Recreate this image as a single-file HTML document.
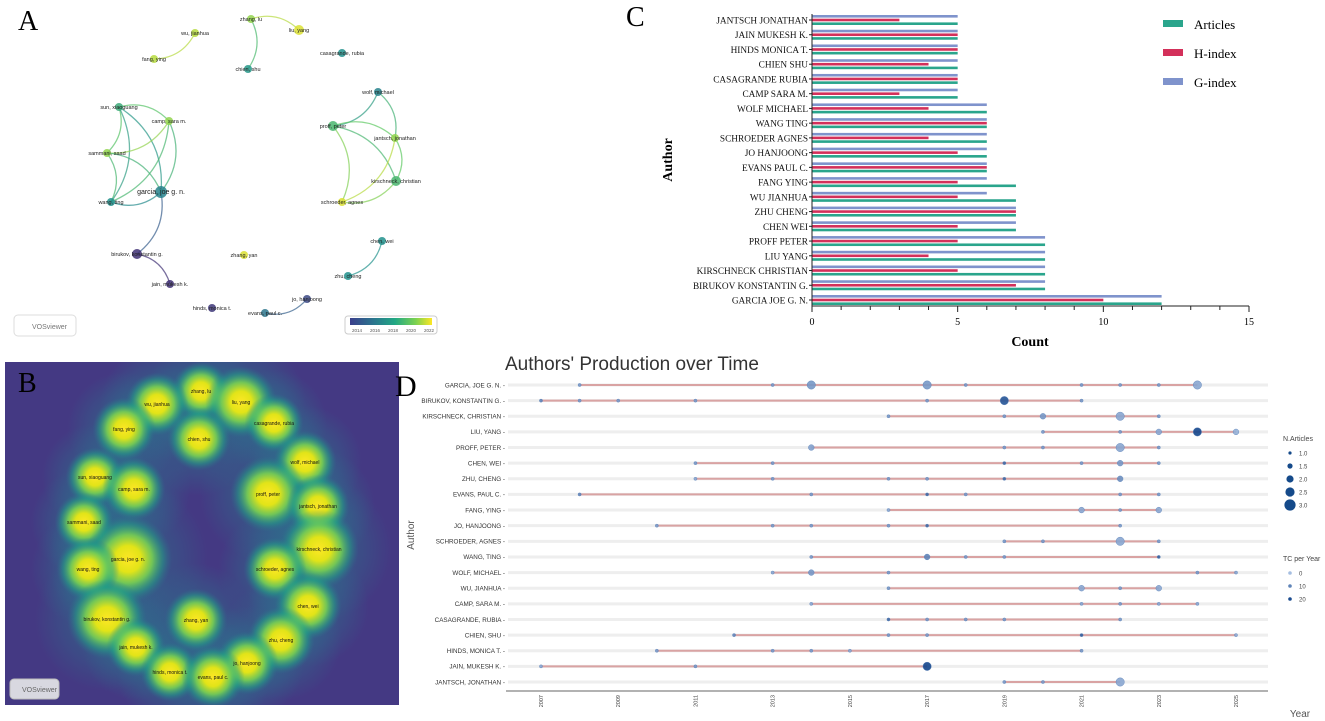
<!DOCTYPE html>
<html><head><meta charset="utf-8"><style>
body{margin:0;background:#fff;width:1325px;height:721px;overflow:hidden;font-family:"Liberation Sans",sans-serif}
svg{position:absolute;left:0;top:0}
</style></head><body>
<svg id="s" width="1325" height="721" viewBox="0 0 1325 721">
<defs>
<radialGradient id="blob">
<stop offset="0" stop-color="#fde725"/>
<stop offset="0.3" stop-color="#e2e418"/>
<stop offset="0.55" stop-color="#7ad151" stop-opacity="0.9"/>
<stop offset="0.8" stop-color="#22a884" stop-opacity="0.45"/>
<stop offset="1" stop-color="#2a788e" stop-opacity="0"/>
</radialGradient>
<radialGradient id="halo">
<stop offset="0" stop-color="#21918c" stop-opacity="0.5"/>
<stop offset="0.6" stop-color="#2a788e" stop-opacity="0.3"/>
<stop offset="1" stop-color="#2a788e" stop-opacity="0"/>
</radialGradient>
<linearGradient id="viridis" x1="0" x2="1">
<stop offset="0" stop-color="#3b3f8c"/><stop offset="0.3" stop-color="#2a788e"/><stop offset="0.55" stop-color="#22a884"/><stop offset="0.8" stop-color="#7ad151"/><stop offset="1" stop-color="#fde725"/>
</linearGradient>
</defs>
<g id="pa"></g>
<g id="pb"></g>
<g id="pc"></g>
<g id="pd"></g>
</svg>
<script>
// ---------- Panel C data ----------
const cAuthors=["JANTSCH JONATHAN","JAIN MUKESH K.","HINDS MONICA T.","CHIEN SHU","CASAGRANDE RUBIA","CAMP SARA M.","WOLF MICHAEL","WANG TING","SCHROEDER AGNES","JO HANJOONG","EVANS PAUL C.","FANG YING","WU JIANHUA","ZHU CHENG","CHEN WEI","PROFF PETER","LIU YANG","KIRSCHNECK CHRISTIAN","BIRUKOV KONSTANTIN G.","GARCIA JOE G. N."];
const cArticles=[5,5,5,5,5,5,6,6,6,6,6,7,7,7,7,8,8,8,8,12];
const cHindex=[3,5,5,4,5,3,4,6,4,5,6,5,5,7,5,5,4,5,7,10];
const cGindex=[5,5,5,5,5,5,6,6,6,6,6,6,6,7,7,8,8,8,8,12];
const cTicks=[0,5,10,15];
// ---------- Panel D data ----------
const dAuthors=["GARCIA, JOE G. N.","BIRUKOV, KONSTANTIN G.","KIRSCHNECK, CHRISTIAN","LIU, YANG","PROFF, PETER","CHEN, WEI","ZHU, CHENG","EVANS, PAUL C.","FANG, YING","JO, HANJOONG","SCHROEDER, AGNES","WANG, TING","WOLF, MICHAEL","WU, JIANHUA","CAMP, SARA M.","CASAGRANDE, RUBIA","CHIEN, SHU","HINDS, MONICA T.","JAIN, MUKESH K.","JANTSCH, JONATHAN"];
const dYears=[[2008,2013,2014,2017,2018,2021,2022,2023,2024],[2007,2008,2009,2011,2017,2019,2021],[2016,2019,2020,2022,2023],[2020,2022,2023,2024,2025],[2014,2019,2020,2022,2023],[2011,2013,2019,2021,2022,2023],[2011,2013,2016,2017,2019,2022],[2008,2014,2017,2018,2022,2023],[2016,2021,2022,2023],[2010,2013,2014,2016,2017,2022],[2019,2020,2022,2023],[2014,2017,2018,2019,2023],[2013,2014,2016,2024,2025],[2016,2021,2022,2023],[2014,2021,2022,2023,2024],[2016,2017,2018,2019,2022],[2012,2016,2017,2021,2025],[2010,2013,2014,2015,2021],[2007,2011,2017],[2019,2020,2022]];
const dArticles=[[1,1,2,2,1,1,1,1,2],[1,1,1,1,1,2,1],[1,1,1.5,2,1],[1,1,1.5,2,1.5],[1.5,1,1,2,1],[1,1,1,1,1.5,1],[1,1,1,1,1,1.5],[1,1,1,1,1,1],[1,1.5,1,1.5],[1,1,1,1,1,1],[1,1,2,1],[1,1.5,1,1,1],[1,1.5,1,1,1],[1,1.5,1,1.5],[1,1,1,1,1],[1,1,1,1,1],[1,1,1,1,1],[1,1,1,1,1],[1,1,2],[1,1,2]];
const dTC=[[8,8,8,8,8,8,8,8,5],[12,8,8,8,8,22,8],[8,8,8,5,8],[8,8,5,25,3],[6,8,8,5,8],[8,8,18,8,8,8],[5,8,8,8,18,10],[12,8,18,8,8,8],[5,5,8,5],[8,8,8,8,18,8],[8,8,5,8],[8,12,8,8,20],[5,8,8,8,5],[8,5,8,5],[5,5,8,5,5],[18,8,8,8,8],[12,8,8,20,5],[8,8,8,5,8],[5,8,25],[8,8,5]];
const dTickYears=[2007,2009,2011,2013,2015,2017,2019,2021,2023,2025];
// ---------- Panel A/B data ----------
const nodeNames=["zhang, lu","liu, yang","wu, jianhua","fang, ying","casagrande, rubia","chien, shu","wolf, michael","sun, xiaoguang","camp, sara m.","proff, peter","jantsch, jonathan","sammani, saad","kirschneck, christian","garcia, joe g. n.","wang, ting","schroeder, agnes","chen, wei","birukov, konstantin g.","zhang, yan","zhu, cheng","jain, mukesh k.","jo, hanjoong","hinds, monica t.","evans, paul c."];
const nodeYear=[2021,2022,2021.5,2021.5,2018,2018.2,2017.5,2019,2021,2019.5,2021,2021,2019.5,2017.5,2018,2022,2018,2014.8,2022,2018,2014.8,2015.5,2015,2017];
const nodeSizeA=[4,5,4,4,4,4,4,4,4,5,4,4,5,6,4,4,4,5,4,4,4,4,4,4];
const edges=[[2,3],[0,1],[0,5],[7,8],[7,11],[7,13],[7,14],[8,11],[8,13],[8,14],[11,13],[11,14],[13,14],[13,17],[17,20],[6,9],[6,10],[9,10],[9,12],[9,15],[10,12],[10,15],[12,15],[16,19],[21,23]];
// layout positions (panel coordinates, not data)
const posA=[[251,19],[299,30],[195,33],[154,59],[342,53],[248,69],[378,92],[119,107],[169,121],[333,126],[395,138],[107,153],[396,181],[161,192],[111,202],[342,202],[382,241],[137,254],[244,255],[348,276],[170,284],[307,299],[212,308],[265,313]];
const posB=[[201,391],[241,402],[157,404],[124,429],[274,423],[199,439],[305,462],[95,477],[134,489],[268,494],[318,506],[84,522],[319,549],[128,559],[88,569],[275,569],[308,606],[107,619],[196,620],[281,640],[136,647],[247,663],[170,672],[213,677]];
const blobR=[28,34,30,30,28,30,30,28,30,36,30,28,38,42,30,30,32,38,30,32,28,30,28,30];

const NS="http://www.w3.org/2000/svg";
function mk(tag,attrs,parent,txt){const e=document.createElementNS(NS,tag);for(const k in attrs)e.setAttribute(k,attrs[k]);if(txt!==undefined)e.textContent=txt;parent.appendChild(e);return e;}
function viridis(t){const st=[[0,[68,1,84]],[0.25,[59,82,139]],[0.5,[33,145,140]],[0.75,[94,201,98]],[1,[253,231,37]]];t=Math.max(0,Math.min(1,t));for(let i=1;i<st.length;i++){if(t<=st[i][0]){const a=st[i-1],b=st[i];const f=(t-a[0])/(b[0]-a[0]);const c=a[1].map((v,j)=>Math.round(v+(b[1][j]-v)*f));return `rgb(${c})`;}}return "rgb(253,231,37)";}
const yc=y=>viridis((y-2013.5)/(2022.5-2013.5));

// ===== Panel A =====
const pa=document.getElementById('pa');
let t=mk('text',{x:18,y:30,'font-family':'Liberation Serif, serif','font-size':28},pa,'A');


edges.forEach(([a,b])=>{const [x1,y1]=posA[a],[x2,y2]=posA[b];const mx=(x1+x2)/2,my=(y1+y2)/2;const dx=x2-x1,dy=y2-y1;const cx=mx+dy*0.3,cy=my-dx*0.3;
const p=mk('path',{d:`M${x1},${y1} Q${cx},${cy} ${x2},${y2}`,fill:'none',stroke:yc((nodeYear[a]+nodeYear[b])/2),'stroke-width':1.3,'stroke-opacity':0.7},pa);

});
nodeNames.forEach((n,i)=>{const [x,y]=posA[i];
const c=mk('circle',{cx:x,cy:y,r:nodeSizeA[i],fill:yc(nodeYear[i]),'fill-opacity':0.85},pa);


const l=mk('text',{x:x,y:y+2,'font-size':i==13?7:5.5,'text-anchor':'middle',fill:'#222'},pa,n);

});
let vb=mk('rect',{x:14,y:315,width:62,height:21,rx:4,fill:'#fff',stroke:'#ddd'},pa);


mk('text',{x:32,y:329,'font-size':7,fill:'#777'},pa,'VOSviewer');
let cb=mk('rect',{x:345,y:316,width:92,height:18,rx:3,fill:'#fff',stroke:'#ccc'},pa);


mk('rect',{x:350,y:318,width:82,height:7,fill:'url(#viridis)'},pa);
[2014,2016,2018,2020,2022].forEach((y,i)=>mk('text',{x:357+i*18,y:332,'font-size':4.5,fill:'#555','text-anchor':'middle'},pa,y));

// ===== Panel B =====
const pb=document.getElementById('pb');
let bg=mk('rect',{x:5,y:362,width:394,height:343,fill:'#443983'},pb);


mk('clipPath',{id:'bclip'},pb).appendChild(Object.assign(document.createElementNS(NS,'rect'),{})).setAttribute('x',5);
const bcr=document.querySelector('#bclip rect');bcr.setAttribute('y',362);bcr.setAttribute('width',394);bcr.setAttribute('height',343);
const bgG=mk('g',{'clip-path':'url(#bclip)'},pb);
posB.forEach(([x,y],i)=>{const c=mk('circle',{cx:x,cy:y,r:blobR[i]*1.9,fill:'url(#halo)'},bgG);

});
posB.forEach(([x,y],i)=>{const c=mk('circle',{cx:x,cy:y,r:blobR[i]*1.05,fill:'url(#blob)'},bgG);

});
nodeNames.forEach((n,i)=>{const l=mk('text',{x:posB[i][0],y:posB[i][1]+2,'font-size':5,'text-anchor':'middle',fill:'#111'},pb,n);

});
t=mk('text',{x:18,y:392,'font-family':'Liberation Serif, serif','font-size':28},pb,'B');


vb=mk('rect',{x:10,y:679,width:49,height:20,rx:4,fill:'#d8d8e0',stroke:'#bbb'},pb);


mk('text',{x:22,y:692,'font-size':7,fill:'#666'},pb,'VOSviewer');

// ===== Panel C =====
const pc=document.getElementById('pc');
const cx0=812,cx1=1249,cyTop=20,cyBot=300;
const cxs=v=>cx0+(cx1-cx0)*v/15;
const cys=i=>cyTop+(cyBot-cyTop)*i/(cAuthors.length-1);
t=mk('text',{x:626,y:26,'font-family':'Liberation Serif, serif','font-size':28},pc,'C');


cAuthors.forEach((a,i)=>{const y=cys(i);
const g=mk('rect',{x:cx0,y:y-5,width:cxs(cGindex[i])-cx0,height:2.6,fill:'#7f93cc'},pc);


const h=mk('rect',{x:cx0,y:y-1.3,width:cxs(cHindex[i])-cx0,height:2.6,fill:'#d3305a'},pc);


const ar=mk('rect',{x:cx0,y:y+2.4,width:cxs(cArticles[i])-cx0,height:2.6,fill:'#2aa58c'},pc);


const l=mk('text',{x:cx0-4,y:y+3.5,'font-family':'Liberation Serif, serif','font-size':9.3,'text-anchor':'end',fill:'#111'},pc,a);


mk('line',{x1:cx0-3,x2:cx0,y1:y,y2:y,stroke:'#222'},pc);});
let ax=mk('path',{d:`M${cx0},14 V306 H${cx1}`,fill:'none',stroke:'#222','stroke-width':1},pc);


for(let v=0;v<=15;v++){mk('line',{x1:cxs(v),x2:cxs(v),y1:306,y2:v%5==0?312:310,stroke:'#222'},pc);}
cTicks.forEach(v=>{const l=mk('text',{x:cxs(v),y:325,'font-family':'Liberation Serif, serif','font-size':10,'text-anchor':'middle'},pc,v);

});
t=mk('text',{x:1030,y:346,'font-family':'Liberation Serif, serif','font-size':14,'font-weight':'bold','text-anchor':'middle'},pc,'Count');


t=mk('text',{x:0,y:0,'font-family':'Liberation Serif, serif','font-size':14,'font-weight':'bold','text-anchor':'middle',transform:'translate(672,160) rotate(-90)'},pc,'Author');


[['Articles','#2aa58c'],['H-index','#d3305a'],['G-index','#7f93cc']].forEach(([n,c],i)=>{const y=24+i*29;
const s=mk('rect',{x:1163,y:y-4,width:20,height:7,fill:c},pc);


const l=mk('text',{x:1194,y:y+5,'font-family':'Liberation Serif, serif','font-size':13},pc,n);

});

// ===== Panel D =====
const pd=document.getElementById('pd');
const dx=y=>541+(1236-541)*(y-2007)/18;
const dy=i=>385+(682-385)*i/(dAuthors.length-1);
const rad=n=>1.6+(n-1)*2.6;
const tcc=v=>{const f=Math.min(1,v/25);const a=[165,190,225],b=[20,70,140];return `rgb(${a.map((x,j)=>Math.round(x+(b[j]-x)*f))})`;};
t=mk('text',{x:505,y:370,'font-size':19,fill:'#333'},pd,"Authors' Production over Time");


t=mk('text',{x:395,y:396,'font-family':'Liberation Serif, serif','font-size':30},pd,'D');


dAuthors.forEach((a,i)=>{const y=dy(i);
const gl=mk('line',{x1:508,x2:1268,y1:y,y2:y,stroke:'#eee','stroke-width':3},pd);


const ys=dYears[i];
const ln=mk('line',{x1:dx(Math.min(...ys)),x2:dx(Math.max(...ys)),y1:y,y2:y,stroke:'#d9a3a3','stroke-width':2},pd);


ys.forEach((yr,j)=>{const c=mk('circle',{cx:dx(yr),cy:y,r:rad(dArticles[i][j]),fill:tcc(dTC[i][j]),'fill-opacity':0.9,stroke:'#5a80b8','stroke-width':0.4},pd);

});
const l=mk('text',{x:505,y:y+2.3,'font-size':6.3,'text-anchor':'end',fill:'#333'},pd,a+' -');

});
ax=mk('line',{x1:506,x2:1268,y1:691,y2:691,stroke:'#999','stroke-width':1.5},pd);


dTickYears.forEach(y=>{const l=mk('text',{x:0,y:0,'font-size':5.5,fill:'#444','text-anchor':'end',transform:`translate(${dx(y)+2},695) rotate(-90)`},pd,y);

});
t=mk('text',{x:1300,y:717,'font-size':10,fill:'#555','text-anchor':'middle'},pd,'Year');


t=mk('text',{x:0,y:0,'font-size':10,fill:'#555','text-anchor':'middle',transform:'translate(414,535) rotate(-90)'},pd,'Author');


mk('text',{x:1283,y:441,'font-size':7,fill:'#444'},pd,'N.Articles');
[1.0,1.5,2.0,2.5,3.0].forEach((n,i)=>{const y=453+i*13;
const c=mk('circle',{cx:1290,cy:y,r:1.6+(n-1)*2,fill:'#154a8a'},pd);


mk('text',{x:1299,y:y+2.3,'font-size':6,fill:'#444'},pd,n.toFixed(1));});
mk('text',{x:1283,y:561,'font-size':7,fill:'#444'},pd,'TC per Year');
[0,10,20].forEach((v,i)=>{const y=573+i*13;
const c=mk('circle',{cx:1290,cy:y,r:1.8,fill:tcc(v*1.2)},pd);


mk('text',{x:1299,y:y+2.3,'font-size':6,fill:'#444'},pd,v);});
</script>
</body></html>
